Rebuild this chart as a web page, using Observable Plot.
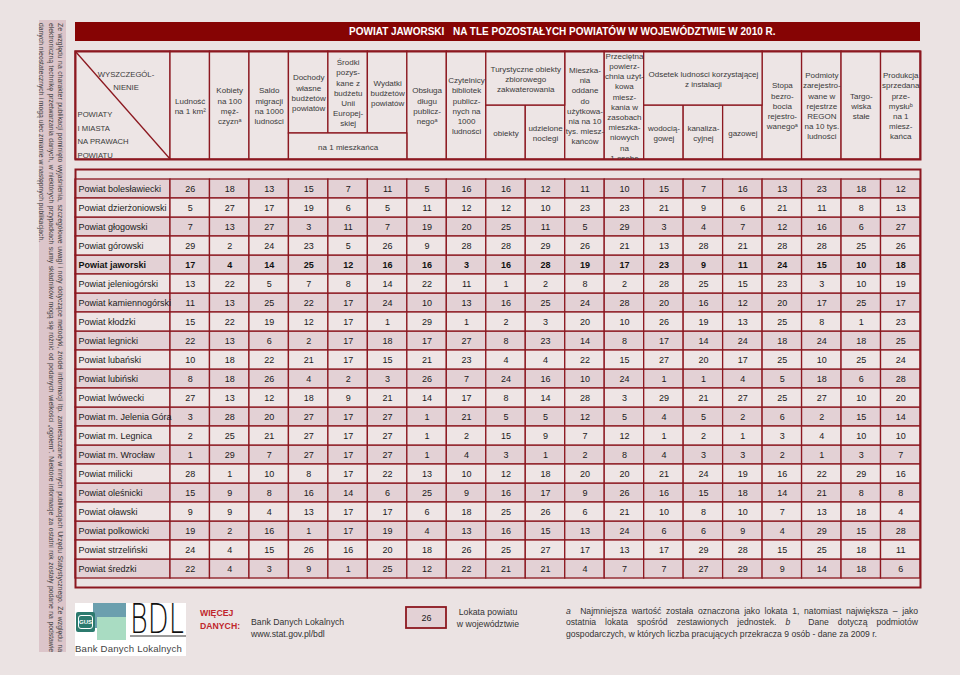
<!DOCTYPE html>
<html><head><meta charset="utf-8">
<script src="https://cdn.jsdelivr.net/npm/d3@7"></script>
<script src="https://cdn.jsdelivr.net/npm/@observablehq/plot@0.6"></script>
<style>
html,body{margin:0;padding:0;background:#ebe3e3;}
#page{position:relative;width:960px;height:675px;overflow:hidden;background:#ebe3e3;font-family:"Liberation Sans",Arial,sans-serif;color:#333;}
.abs{position:absolute;}
#strip{left:39px;top:20px;width:27px;height:632px;background:#dcc5ca;writing-mode:vertical-rl;box-sizing:border-box;padding:3px 1px 0 0;font-size:6.8px;line-height:9.4px;color:#3d3d3d;}
#strip div{white-space:nowrap;}
#strip .j{text-align-last:justify;text-align:justify;white-space:normal;}
#title{left:75px;top:22px;width:845px;height:19px;background:#860404;color:#fff;font-weight:bold;font-size:10px;line-height:19px;white-space:pre;}
#title span{position:absolute;top:0;}
.foot{font-size:8.7px;line-height:12px;color:#333;}
#note div{text-align:justify;text-align-last:justify;white-space:nowrap;}
</style></head>
<body><div id="page">
<div id="strip" class="abs">
<div class="j">Ze względu na charakter publikacji pominięto wyjaśnienia, szczegółowe uwagi i noty dotyczące metodyki, źródeł informacji itp. zamieszczane w innych publikacjach Urzędu Statystycznego. Ze względu na</div>
<div class="j">elektroniczną technikę przetwarzania danych, w niektórych przypadkach sumy składników mogą się różnić od podanych wielkości „ogółem”. Niektóre informacje za ostatni rok zostały podane na podstawie</div>
<div>danych nieostatecznych i mogą ulec zmianie w następnych publikacjach.</div>
</div>
<div id="title" class="abs"><span style="left:274px">POWIAT JAWORSKI</span><span style="left:378px">NA TLE POZOSTAŁYCH POWIATÓW W WOJEWÓDZTWIE W 2010 R.</span></div>
<div id="head" class="abs" style="left:0;top:45px;"></div>
<div id="data" class="abs" style="left:0;top:159px;"></div>

<!-- footer -->
<div class="abs" style="left:75px;top:603px;width:111px;height:53px;background:#fff;">
  <div class="abs" style="left:18px;top:0;width:33px;height:25px;background:#6b9fae;"></div>
  <div class="abs" style="left:22px;top:14px;width:29px;height:23px;background:#a9dcc2;"></div>
  <div class="abs" style="left:1px;top:9px;width:19px;height:20px;background:#2c7a6e;border-radius:2px;"></div>
  <div class="abs" style="left:3px;top:12px;width:15px;height:14px;border:1px solid #fff;border-radius:3px;box-sizing:border-box;color:#fff;font-size:6px;font-weight:bold;line-height:12px;text-align:center;">GUS</div>
  <div class="abs" style="left:55px;top:-4px;font-family:'DejaVu Sans';font-weight:200;font-size:40px;line-height:40px;color:#111;transform:scaleX(0.68);transform-origin:0 0;">BDL</div>
  <div class="abs" style="left:55px;top:32px;width:56px;height:2px;background:#9a9a9a;"></div>
  <div class="abs" style="left:0;top:40px;width:111px;font-size:9.6px;line-height:12px;color:#444;letter-spacing:0.2px;white-space:nowrap;">Bank Danych Lokalnych</div>
</div>
<div class="abs foot" style="left:200px;top:607px;color:#c0262c;font-weight:bold;line-height:13px;">WIĘCEJ<br>DANYCH:</div>
<div class="abs foot" style="left:251px;top:616px;">Bank Danych Lokalnych<br>www.stat.gov.pl/bdl</div>
<div id="legend" class="abs" style="left:400px;top:600px;"></div>
<div class="abs foot" style="left:450px;top:606px;width:76px;text-align:center;">Lokata powiatu<br>w województwie</div>
<div id="note" class="abs foot" style="left:566px;top:606px;width:352px;font-size:8.6px;line-height:11.3px;">
  <div><i>a</i>&nbsp; Najmniejsza wartość została oznaczona jako lokata 1, natomiast największa – jako</div>
  <div>ostatnia lokata spośród zestawionych jednostek. <i>b</i>&nbsp; Dane dotyczą podmiotów</div>
  <div style="text-align-last:auto;">gospodarczych, w których liczba pracujących przekracza 9 osób - dane za 2009 r.</div>
</div>
</div>
<script>
// ---------- DATA ----------
const powiaty = ["Powiat bolesławiecki","Powiat dzierżoniowski","Powiat głogowski","Powiat górowski","Powiat jaworski","Powiat jeleniogórski","Powiat kamiennogórski","Powiat kłodzki","Powiat legnicki","Powiat lubański","Powiat lubiński","Powiat lwówecki","Powiat m. Jelenia Góra","Powiat m. Legnica","Powiat m. Wrocław","Powiat milicki","Powiat oleśnicki","Powiat oławski","Powiat polkowicki","Powiat strzeliński","Powiat średzki"];
const wyroznionyPowiat = "Powiat jaworski";

const kolumny = [
 "Ludność\nna 1 km²",
 "Kobiety\nna 100\nmęż-\nczyznᵃ",
 "Saldo\nmigracji\nna 1000\nludności",
 "Dochody\nwłasne\nbudżetów\npowiatów",
 "Środki\npozys-\nkane z\nbudżetu\nUnii\nEuropej-\nskiej",
 "Wydatki\nbudżetów\npowiatów",
 "Obsługa\ndługu\npublicz-\nnegoᵃ",
 "Czytelnicy\nbibliotek\npublicz-\nnych na\n1000\nludności",
 "obiekty",
 "udzielone\nnoclegi",
 "Mieszka-\nnia\noddane\ndo\nużytkowa-\nnia na 10\ntys. miesz-\nkańców",
 "Przeciętna\npowierz-\nchnia użyt-\nkowa\nmiesz-\nkania w\nzasobach\nmieszka-\nniowych\nna\n1 osobę",
 "wodocią-\ngowej",
 "kanaliza-\ncyjnej",
 "gazowej",
 "Stopa\nbezro-\nbocia\nrejestro-\nwanegoᵃ",
 "Podmioty\nzarejestro-\nwane w\nrejestrze\nREGON\nna 10 tys.\nludności",
 "Targo-\nwiska\nstałe",
 "Produkcja\nsprzedana\nprze-\nmysłuᵇ\nna 1\nmiesz-\nkańca"
];
// grouped headers: first / last column index and text
const grupyKolumn = [
 {from: 3, to: 5, text: "na 1 mieszkańca", below: true},
 {from: 8, to: 9, text: "Turystyczne obiekty\nzbiorowego\nzakwaterowania", below: false},
 {from: 12, to: 14, text: "Odsetek ludności korzystającej\nz instalacji", below: false}
];
const naroznikGora = "WYSZCZEGÓL-\nNIENIE";
const naroznikDol = "POWIATY\nI MIASTA\nNA PRAWACH\nPOWIATU";

// lokaty (ranks) – one row per powiat, 19 columns
const lokaty = [
 [26,18,13,15,7,11,5,16,16,12,11,10,15,7,16,13,23,18,12],
 [5,27,17,19,6,5,11,12,12,10,23,23,21,9,6,21,11,8,13],
 [7,13,27,3,11,7,19,20,25,11,5,29,3,4,7,12,16,6,27],
 [29,2,24,23,5,26,9,28,28,29,26,21,13,28,21,28,28,25,26],
 [17,4,14,25,12,16,16,3,16,28,19,17,23,9,11,24,15,10,18],
 [13,22,5,7,8,14,22,11,1,2,8,2,28,25,15,23,3,10,19],
 [11,13,25,22,17,24,10,13,16,25,24,28,20,16,12,20,17,25,17],
 [15,22,19,12,17,1,29,1,2,3,20,10,26,19,13,25,8,1,23],
 [22,13,6,2,17,18,17,27,8,23,14,8,17,14,24,18,24,18,25],
 [10,18,22,21,17,15,21,23,4,4,22,15,27,20,17,25,10,25,24],
 [8,18,26,4,2,3,26,7,24,16,10,24,1,1,4,5,18,6,28],
 [27,13,12,18,9,21,14,17,8,14,28,3,29,21,27,25,27,10,20],
 [3,28,20,27,17,27,1,21,5,5,12,5,4,5,2,6,2,15,14],
 [2,25,21,27,17,27,1,2,15,9,7,12,1,2,1,3,4,10,10],
 [1,29,7,27,17,27,1,4,3,1,2,8,4,3,3,2,1,3,7],
 [28,1,10,8,17,22,13,10,12,18,20,20,21,24,19,16,22,29,16],
 [15,9,8,16,14,6,25,9,16,17,9,26,16,15,18,14,21,8,8],
 [9,9,4,13,17,17,6,18,25,26,6,21,10,8,10,7,13,18,4],
 [19,2,16,1,17,19,4,13,16,15,13,24,6,6,9,4,29,15,28],
 [24,4,15,26,16,20,18,26,25,27,17,13,17,29,28,15,25,18,11],
 [22,4,3,9,1,25,12,22,21,21,4,7,7,27,29,9,14,18,6]
];
const legendaPrzyklad = 26;

// ---------- STYLE ----------
const BORDER = "#8c1820";
const DARK = "#e3d1d5";
const LIGHT = "#eee5e5";
const HEADFILL = "#ede5e5";
const NCOL = kolumny.length;
const LABEL = 95 / (750 / NCOL);   // width of label column in column units
const HEAD_H = 108, SPLIT_UP = 54, SPLIT_NA = 82;

// ---------- DATA TABLE ----------
const cells = powiaty.flatMap((p, r) => lokaty[r].map((v, c) => ({powiat: p, row: r, col: c, value: v})));
const rows = powiaty.map((p, r) => ({powiat: p, row: r}));
const isDark = d => d.row % 2 === 0;
const isHi = d => d.powiat === wyroznionyPowiat;

const dataPlot = Plot.plot({
  width: 960, height: 438,
  marginLeft: 75, marginRight: 40, marginTop: 10, marginBottom: 10,
  x: {domain: [-LABEL, NCOL], axis: null},
  y: {domain: powiaty, axis: null, padding: 0},
  style: {background: "transparent", fontFamily: "Liberation Sans, Arial, sans-serif"},
  marks: [
    Plot.barX(rows, {filter: isDark, x1: -LABEL, x2: 0, y: "powiat", fill: DARK, stroke: BORDER, strokeWidth: 1.3}),
    Plot.barX(rows, {filter: d => !isDark(d), x1: -LABEL, x2: 0, y: "powiat", fill: LIGHT, stroke: BORDER, strokeWidth: 1.3}),
    Plot.barX(cells, {filter: isDark, x1: "col", x2: d => d.col + 1, y: "powiat", fill: DARK, stroke: BORDER, strokeWidth: 1.3}),
    Plot.barX(cells, {filter: d => !isDark(d), x1: "col", x2: d => d.col + 1, y: "powiat", fill: LIGHT, stroke: BORDER, strokeWidth: 1.3}),
    Plot.frame({stroke: BORDER, strokeWidth: 2}),
    Plot.text(rows, {filter: d => !isHi(d), x: -LABEL, y: "powiat", text: "powiat", textAnchor: "start", dx: 3, fontSize: 9, fill: "#1a1a1a"}),
    Plot.text(rows, {filter: isHi, x: -LABEL, y: "powiat", text: "powiat", textAnchor: "start", dx: 3, fontSize: 9, fontWeight: "bold", fill: "#111"}),
    Plot.text(cells, {filter: d => !isHi(d), x: d => d.col + 0.5, y: "powiat", text: "value", fontSize: 9, fill: "#1a1a1a"}),
    Plot.text(cells, {filter: isHi, x: d => d.col + 0.5, y: "powiat", text: "value", fontSize: 9, fontWeight: "bold", fill: "#111"})
  ]
});
document.getElementById("data").appendChild(dataPlot);

// ---------- HEADER ----------
const head = [];
head.push({x1: -LABEL, x2: 0, y1: 0, y2: HEAD_H, text: ""});
kolumny.forEach((t, c) => {
  const g = grupyKolumn.find(g => c >= g.from && c <= g.to);
  if (!g) head.push({x1: c, x2: c + 1, y1: 0, y2: HEAD_H, text: t});
  else if (g.below) head.push({x1: c, x2: c + 1, y1: 0, y2: SPLIT_NA, text: t});
  else head.push({x1: c, x2: c + 1, y1: SPLIT_UP, y2: HEAD_H, text: t});
});
grupyKolumn.forEach(g => {
  if (g.below) head.push({x1: g.from, x2: g.to + 1, y1: SPLIT_NA, y2: HEAD_H, text: g.text});
  else head.push({x1: g.from, x2: g.to + 1, y1: 0, y2: SPLIT_UP, text: g.text});
});
const LH = 10.2, FS = 8;
const fits = d => d.text.split("\n").length * LH <= (d.y2 - d.y1);
const headTexts = head.filter(d => d.text);

const headPlot = Plot.plot({
  width: 960, height: 120,
  marginLeft: 75, marginRight: 40, marginTop: 6, marginBottom: 6,
  x: {domain: [-LABEL, NCOL], axis: null},
  y: {domain: [0, HEAD_H], range: [6, 114], axis: null},
  style: {background: "transparent", fontFamily: "Liberation Sans, Arial, sans-serif"},
  marks: [
    Plot.rect(head, {x1: "x1", x2: "x2", y1: "y1", y2: "y2", fill: HEADFILL, stroke: BORDER, strokeWidth: 1.3}),
    Plot.link([0], {x1: -LABEL, y1: 0, x2: 0, y2: HEAD_H, stroke: BORDER, strokeWidth: 1.3}),
    Plot.frame({stroke: BORDER, strokeWidth: 2}),
    Plot.text(headTexts.filter(fits), {x: d => (d.x1 + d.x2) / 2, y: d => (d.y1 + d.y2) / 2, text: "text", fontSize: FS, lineHeight: LH / FS, fill: "#3a3a3a"}),
    Plot.text(headTexts.filter(d => !fits(d)), {x: d => (d.x1 + d.x2) / 2, y: d => d.y1, text: "text", lineAnchor: "top", fontSize: FS, lineHeight: LH / FS, fill: "#3a3a3a", clip: true}),
    Plot.text([naroznikGora], {x: -LABEL / 2, y: 27.5, text: d => d, fontSize: 7.7, lineHeight: 1.7, fill: "#3a3a3a", dx: 3}),
    Plot.text([naroznikDol], {x: -LABEL, y: 81.5, text: d => d, textAnchor: "start", dx: 2, fontSize: 7.7, lineHeight: 1.78, fill: "#3a3a3a"})
  ]
});
document.getElementById("head").appendChild(headPlot);

// ---------- LEGEND BOX ----------
const legendPlot = Plot.plot({
  width: 52, height: 34, margin: 0,
  marginLeft: 6, marginRight: 6, marginTop: 7, marginBottom: 6,
  x: {domain: [0, 1], axis: null},
  y: {domain: [0, 1], axis: null},
  style: {background: "transparent", fontFamily: "Liberation Sans, Arial, sans-serif"},
  marks: [
    Plot.rect([legendaPrzyklad], {x1: 0, x2: 1, y1: 0, y2: 1, fill: DARK, stroke: BORDER, strokeWidth: 1.8}),
    Plot.text([legendaPrzyklad], {x: 0.5, y: 0.5, text: d => String(d), fontSize: 9, fill: "#1a1a1a"})
  ]
});
document.getElementById("legend").appendChild(legendPlot);
</script>
</body></html>
